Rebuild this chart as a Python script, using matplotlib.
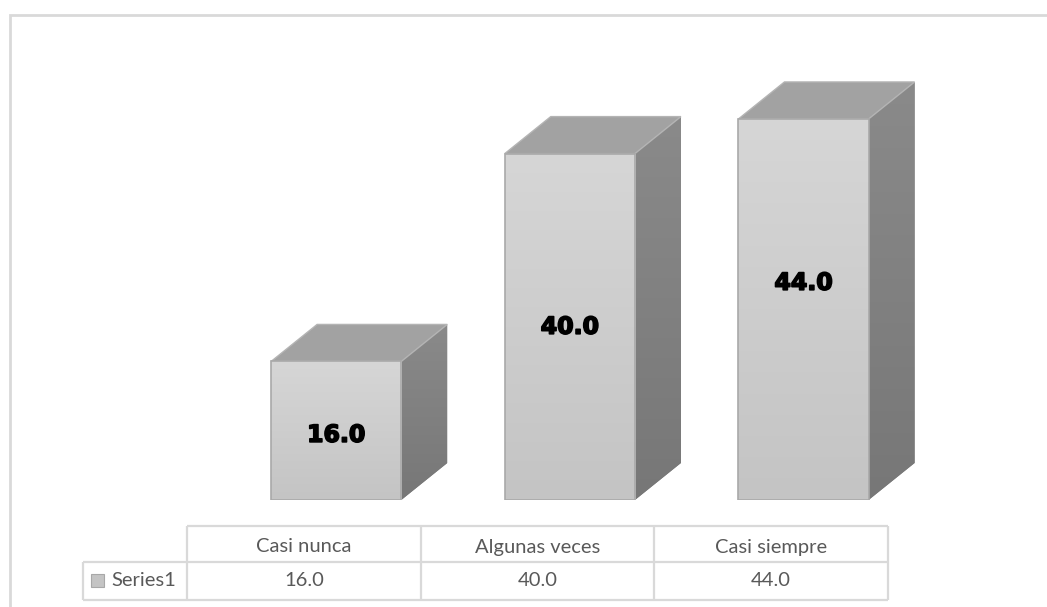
import numpy as np
import matplotlib
matplotlib.use("Agg")
import matplotlib.pyplot as plt
import matplotlib.transforms as mtransforms
from matplotlib.colors import LinearSegmentedColormap
from matplotlib.patches import Polygon, Rectangle
import matplotlib.patheffects as pe

# data
categories = ["Casi nunca", "Algunas veces", "Casi siempre"]
values = [16.0, 40.0, 44.0]
series_name = "Series1"

# layout (pixels of a 1047x607 canvas)
W, H = 1047, 607
PX_PER_UNIT = 8.66
CAT_PX = 233.67
label_pos = [0.47, 0.50, 0.57]   # label height as fraction of bar


def fx(px):
    return px / W


def fy(py):
    return 1 - py / H


fig = plt.figure(figsize=(W / 100, H / 100), dpi=100)
fig.patch.set_facecolor("white")

# outer chart border (clipped at right/bottom as in the original)
fig.add_artist(Rectangle((fx(9.5), -0.1), 1.2, fy(15) + 0.1, transform=fig.transFigure,
                         fill=False, ec="#d9d9d9", lw=2))

ax_top, ax_bot = 30, 500
x_extra = 0.35
ax = fig.add_axes([fx(187), fy(ax_bot), (3 + x_extra) * CAT_PX / W, (ax_bot - ax_top) / H])
ax.axis("off")
ymax = (ax_bot - ax_top) / PX_PER_UNIT

bar_w = 0.557
bar_off = 0.36
dx = 46 / CAT_PX
dy = 37 / PX_PER_UNIT

front_cmap = LinearSegmentedColormap.from_list("front", ["#c4c4c4", "#d6d6d6"])
side_cmap = LinearSegmentedColormap.from_list("side", ["#777777", "#8a8a8a"])
grad = np.linspace(0, 1, 256).reshape(-1, 1)

for i, v in enumerate(values):
    x0 = i + bar_off
    x1 = x0 + bar_w
    # side face
    side = Polygon([(x1, 0), (x1 + dx, dy), (x1 + dx, v + dy), (x1, v)], closed=True,
                   fc="#808080", ec="none", zorder=1)
    ax.add_patch(side)
    im = ax.imshow(grad, extent=[x1, x1 + dx, 0, v + dy], origin="lower", aspect="auto",
                   cmap=side_cmap, zorder=1.1)
    im.set_clip_path(side)
    # top face
    top = Polygon([(x0, v), (x1, v), (x1 + dx, v + dy), (x0 + dx, v + dy)], closed=True,
                  fc="#a2a2a2", ec="#b4b4b4", lw=1, zorder=2)
    ax.add_patch(top)
    # front face
    front = Rectangle((x0, 0), bar_w, v, fc="#cccccc", ec="none", zorder=3)
    ax.add_patch(front)
    im = ax.imshow(grad, extent=[x0, x1, 0, v], origin="lower", aspect="auto",
                   cmap=front_cmap, zorder=3.1)
    im.set_clip_path(front)
    ax.add_patch(Rectangle((x0, 0), bar_w, v, fill=False, ec="#a9a9a9", lw=1.2, zorder=3.2))
    # value label
    ax.text(x0 + bar_w / 2, v * label_pos[i], f"{v:.1f}", ha="center", va="center",
            fontsize=17, fontweight="bold", family="DejaVu Sans", color="black", zorder=5,
            path_effects=[pe.withStroke(linewidth=1.2, foreground="black")])

ax.set_xlim(0, 3 + x_extra)
ax.set_ylim(0, ymax)

# data table below the plot
trans = mtransforms.blended_transform_factory(ax.transData, ax.transAxes)


def ty(py):
    return (ax_bot - py) / (ax_bot - ax_top)


grid_c = "#d9d9d9"
t_top, t_mid, t_bot = 526, 562, 600
x_left = (83 - 187) / CAT_PX
line_kw = dict(color=grid_c, lw=1.6, transform=trans, clip_on=False, solid_capstyle="butt")
ax.plot([0, 3], [ty(t_top)] * 2, **line_kw)
ax.plot([x_left, 3], [ty(t_mid)] * 2, **line_kw)
ax.plot([x_left, 3], [ty(t_bot)] * 2, **line_kw)
for xc in range(len(categories) + 1):
    ax.plot([xc, xc], [ty(t_top), ty(t_bot)], **line_kw)
ax.plot([x_left, x_left], [ty(t_mid), ty(t_bot)], **line_kw)

txt_kw = dict(ha="center", va="center", fontsize=14.5, family="Lato", color="#595959",
              transform=trans, clip_on=False)
for i, (c, v) in enumerate(zip(categories, values)):
    ax.text(i + 0.5, ty(547), c, **txt_kw)
    ax.text(i + 0.5, ty(581), f"{v:.1f}", **txt_kw)

# legend key and series name
fig.add_artist(Rectangle((fx(91), fy(587)), 13 / W, 13 / H, transform=fig.transFigure,
                         fc="#c4c4c4", ec="#a8a8a8", lw=0.8))
fig.text(fx(111), fy(581), series_name, ha="left", va="center", fontsize=14.5,
         family="Lato", color="#595959")

fig.savefig("out.png", dpi=100, facecolor="white")
